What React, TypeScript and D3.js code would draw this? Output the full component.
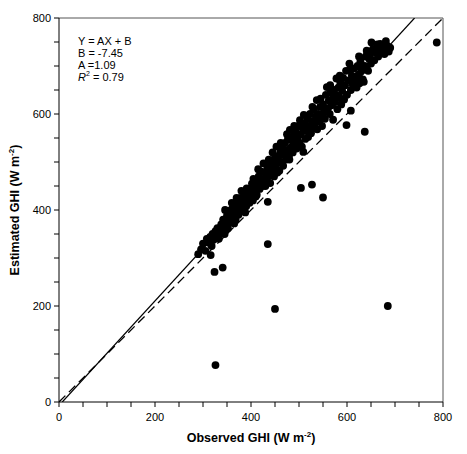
import React from "react";
import * as d3 from "d3";

const cloudX = [290,296,300,305,308,312,315,318,320,322,326,328,330,333,335,338,340,342,345,346,348,350,352,354,356,358,360,362,364,366,368,370,372,374,376,378,380,382,384,386,388,390,391,393,395,397,399,400,402,404,406,408,410,412,414,416,418,420,422,424,426,428,430,432,434,436,438,440,442,444,446,448,450,452,453,455,457,459,461,463,465,467,469,471,473,475,477,479,481,483,485,487,489,491,493,495,497,499,501,502,504,506,508,509,511,513,515,517,519,521,523,525,527,529,531,533,535,537,538,540,542,544,546,548,550,552,554,556,558,560,562,564,566,568,570,571,573,575,577,578,580,582,584,586,588,590,592,594,596,598,600,603,606,608,610,612,615,618,620,622,624,626,628,630,633,635,637,639,641,641,644,646,648,650,651,654,657,660,663,665,667,669,672,675,678,681,684,687,690,352,360,370,380,405,415,437,445,462,475,490,510,528,545,565,585,605,625,345,365,388,410,430,455,480];
const cloudY = [308,318,330,315,340,332,344,325,350,338,356,345,362,340,352,370,358,380,366,400,372,388,362,380,395,375,402,385,392,410,380,398,416,390,405,425,398,412,400,430,418,408,445,425,436,415,442,430,455,420,446,438,460,432,452,470,444,458,480,450,497,466,478,458,490,470,484,456,500,476,492,470,510,486,532,498,512,482,520,500,530,492,515,540,505,525,548,512,567,530,545,520,556,538,562,528,550,575,540,587,558,532,570,521,580,548,565,590,552,575,600,560,585,570,610,580,595,629,568,600,585,615,595,575,620,605,590,640,656,612,628,600,645,618,632,588,650,625,640,674,610,655,635,665,620,648,675,630,660,690,640,670,692,650,680,662,695,672,655,700,682,664,710,690,672,667,700,720,698,732,690,715,723,705,749,735,712,728,745,720,738,746,730,740,725,752,742,730,738,398,415,425,440,465,485,505,520,540,558,575,598,615,632,660,680,705,720,350,372,395,428,450,478,505];
const outlierX = [316,324,341,326,435,450,685,435,504,527,550,637,599,608,787];
const outlierY = [306,271,280,77,329,194,200,417,446,453,426,563,577,607,749];

const slopeA = 1.09;
const interceptB = -7.45;
const statLines = ["Y = AX + B", "B = -7.45", "A =1.09"];
const majorTicks = [0, 200, 400, 600, 800];
const minorTicks = d3.range(0, 801, 50);

export default function App() {
  const W = 467, H = 454;
  const left = 59, right = 443, top = 18, bottom = 402;
  const x = d3.scaleLinear().domain([0, 800]).range([left, right]);
  const y = d3.scaleLinear().domain([0, 800]).range([bottom, top]);
  const pts = cloudX.map((v, i) => [v, cloudY[i]]).concat(outlierX.map((v, i) => [v, outlierY[i]]));
  const fitX0 = -interceptB / slopeA;
  const fitX1 = (800 - interceptB) / slopeA;
  const font = "Liberation Sans, Arial, sans-serif";
  return (
    <svg width={W} height={H} style={{ position: "absolute", left: 0, top: 0, background: "#fff" }} fontFamily={font}>
      <defs>
        <clipPath id="plotclip">
          <rect x={left} y={top} width={right - left} height={bottom - top} />
        </clipPath>
      </defs>
      <rect x={0} y={0} width={W} height={H} fill="#fff" />
      <line x1={left} y1={top} x2={right} y2={top} stroke="#555" strokeWidth={1} />
      <line x1={right} y1={top} x2={right} y2={bottom} stroke="#555" strokeWidth={1} />
      <line x1={left} y1={bottom} x2={right} y2={bottom} stroke="#000" strokeWidth={1} />
      <line x1={left} y1={top} x2={left} y2={bottom} stroke="#000" strokeWidth={1} />
      {minorTicks.map((t) => (
        <g key={"t" + t}>
          <line x1={x(t)} x2={x(t)} y1={bottom} y2={bottom + 5} stroke="#000" />
          <line x1={left - 5} x2={left} y1={y(t)} y2={y(t)} stroke="#000" />
        </g>
      ))}
      {majorTicks.map((t) => (
        <g key={"l" + t} fontSize={11} fill="#000">
          <text x={x(t)} y={bottom + 19} textAnchor="middle">{t}</text>
          <text x={left - 8} y={y(t) + 4} textAnchor="end">{t}</text>
        </g>
      ))}
      <g clipPath="url(#plotclip)">
        <line x1={x(0)} y1={y(0)} x2={x(800)} y2={y(800)} stroke="#000" strokeWidth={1.3} strokeDasharray="9,5" />
        <line x1={x(fitX0)} y1={y(0)} x2={x(fitX1)} y2={y(800)} stroke="#000" strokeWidth={1.2} />
        {pts.map((p, i) => (
          <circle key={i} cx={x(p[0])} cy={y(p[1])} r={3.9} fill="#000" />
        ))}
      </g>
      <g fontSize={11} fill="#000">
        {statLines.map((s, i) => (
          <text key={s} x={78} y={45 + i * 12}>{s}</text>
        ))}
        <text x={78} y={81}>
          <tspan fontStyle="italic">R</tspan>
          <tspan fontSize={7} dy={-5}>2</tspan>
          <tspan dy={5}> = 0.79</tspan>
        </text>
      </g>
      <text x={(left + right) / 2} y={442} textAnchor="middle" fontSize={12.5} fontWeight="bold">
        Observed GHI (W m<tspan fontSize={8} dy={-5}>-2</tspan><tspan dy={5}>)</tspan>
      </text>
      <text transform={`translate(19,${(top + bottom) / 2}) rotate(-90)`} textAnchor="middle" fontSize={12.5} fontWeight="bold">
        Estimated GHI (W m<tspan fontSize={8} dy={-5}>-2</tspan><tspan dy={5}>)</tspan>
      </text>
    </svg>
  );
}
